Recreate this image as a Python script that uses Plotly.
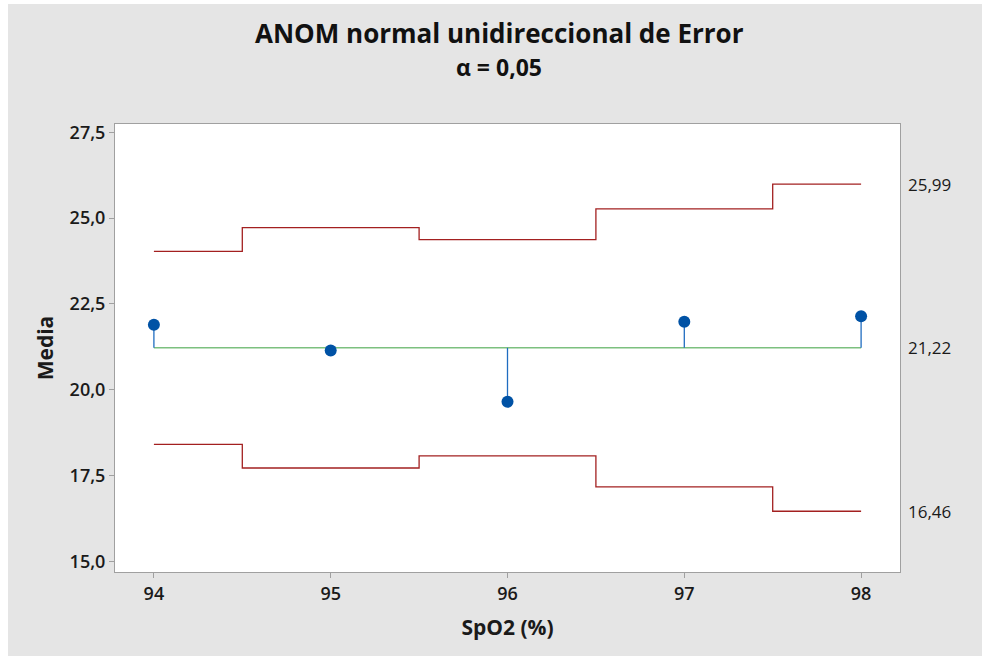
import plotly.graph_objects as go

# ---- data ----
levels = [94, 95, 96, 97, 98]
means = [21.89, 21.14, 19.65, 21.98, 22.14]
center = 21.22
udl = [24.03, 24.72, 24.37, 25.27, 25.99]
ldl = [18.41, 17.72, 18.07, 17.17, 16.46]
y_ticks = [15.0, 17.5, 20.0, 22.5, 25.0, 27.5]
y_ticklabels = ["15,0", "17,5", "20,0", "22,5", "25,0", "27,5"]
x_ticks = [94, 95, 96, 97, 98]
x_ticklabels = ["94", "95", "96", "97", "98"]

title_text = "ANOM normal unidireccional de Error"
subtitle_text = "α = 0,05"

FONT = "Open Sans"
RED = "#a32020"
GREEN = "#7cc07f"
BLUE = "#0052a5"
STEM = "#1f6cc0"

W, H = 990, 664
L, R, T, B = 107, 98, 120, 96
PW, PH = W - L - R, H - T - B

fig = go.Figure()

# decision limits (step lines)
fig.add_trace(go.Scatter(x=levels, y=udl, mode="lines", line_shape="hvh",
                         line=dict(color=RED, width=1.3), hoverinfo="skip"))
fig.add_trace(go.Scatter(x=levels, y=ldl, mode="lines", line_shape="hvh",
                         line=dict(color=RED, width=1.3), hoverinfo="skip"))
# center line
fig.add_trace(go.Scatter(x=[levels[0], levels[-1]], y=[center, center], mode="lines",
                         line=dict(color=GREEN, width=1.5), hoverinfo="skip"))
# stems
sx, sy = [], []
for xv, mv in zip(levels, means):
    sx += [xv, xv, None]
    sy += [center, mv, None]
fig.add_trace(go.Scatter(x=sx, y=sy, mode="lines",
                         line=dict(color=STEM, width=1.3), hoverinfo="skip"))
# means
fig.add_trace(go.Scatter(x=levels, y=means, mode="markers",
                         marker=dict(color=BLUE, size=12)))

# right-side labels
for v in [udl[-1], center, ldl[-1]]:
    fig.add_annotation(x=1, xref="paper", y=v, yref="y", xanchor="left", yanchor="middle",
                       xshift=6, showarrow=False, text=f"{v:.2f}".replace(".", ","),
                       font=dict(family=FONT, size=17, color="#1a1a1a"))

# titles
tx = (491 - L) / PW
fig.add_annotation(x=tx, xref="paper", y=(PH + T - 29) / PH, yref="paper",
                   xanchor="center", yanchor="middle", showarrow=False,
                   text=f"<b>{title_text}</b>",
                   font=dict(family=FONT, size=26, color="#111111"))
fig.add_annotation(x=tx, xref="paper", y=(PH + T - 63) / PH, yref="paper",
                   xanchor="center", yanchor="middle", showarrow=False,
                   text=f"<b>{subtitle_text}</b>",
                   font=dict(family=FONT, size=23, color="#111111"))

fig.update_layout(
    width=W, height=H,
    margin=dict(l=L, r=R, t=T, b=B),
    paper_bgcolor="#e5e5e5",
    plot_bgcolor="white",
    showlegend=False,
    font=dict(family=FONT, color="#1a1a1a"),
)
fig.update_xaxes(range=[93.78, 98.22], tickvals=x_ticks, ticktext=x_ticklabels,
                 showgrid=False, zeroline=False,
                 showline=True, linecolor="#a0a0a0", linewidth=1, mirror=True,
                 ticks="outside", ticklen=5, tickcolor="#a0a0a0",
                 tickfont=dict(family=FONT, size=18, color="#1a1a1a", weight=600),
                 title=dict(text="<b>SpO2 (%)</b>", standoff=16,
                            font=dict(family=FONT, size=21, color="#1a1a1a")))
fig.update_yaxes(range=[14.69, 27.74], tickvals=y_ticks, ticktext=y_ticklabels,
                 showgrid=False, zeroline=False,
                 showline=True, linecolor="#a0a0a0", linewidth=1, mirror=True,
                 ticks="outside", ticklen=5, tickcolor="#a0a0a0",
                 tickfont=dict(family=FONT, size=18, color="#1a1a1a", weight=600),
                 title=dict(text="<b>Media</b>", standoff=10,
                            font=dict(family=FONT, size=21, color="#1a1a1a")))

fig.write_html(
    "out.html",
    post_script="document.body.style.margin='4px 0 0 8px';"
                "document.body.style.overflow='hidden';"
                "document.documentElement.style.overflow='hidden';",
)
